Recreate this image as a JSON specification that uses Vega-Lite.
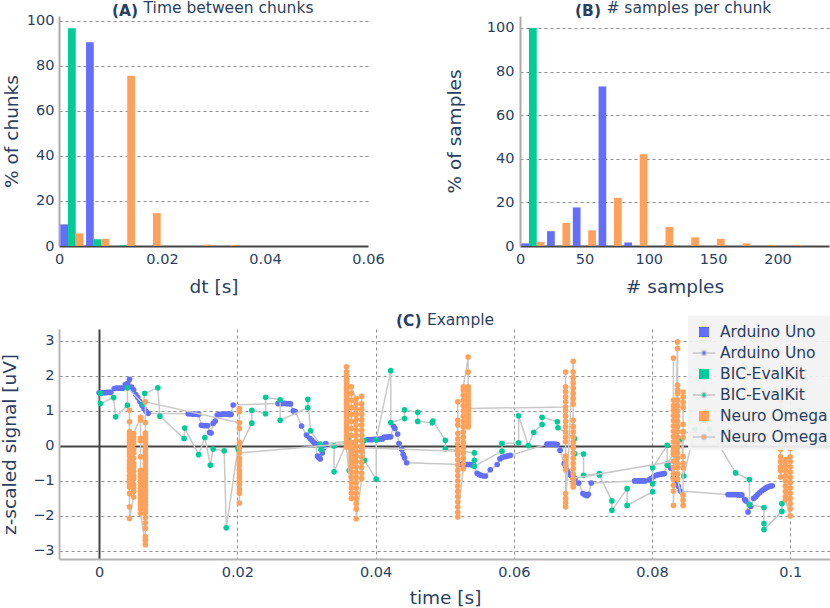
{
"$schema":"https://vega.github.io/schema/vega-lite/v6.json",
"background":"white",
"padding":{"left":0,"top":0,"right":0,"bottom":0},
"config":{
 "font":"DejaVu Sans",
 "view":{"stroke":null},
 "axis":{"labelFont":"DejaVu Sans","labelFontSize":14.5,"labelColor":"#2a3f5f","labelFlush":false,"titleFont":"DejaVu Sans","titleFontSize":18.5,"titleFontWeight":"normal","titleColor":"#2a3f5f","ticks":false,"labelPadding":6,"gridColor":"#8f8f8f","gridDash":[3,3],"domainColor":"#b0b0b0","domainWidth":2},
 "title":{"font":"DejaVu Sans","fontSize":15.5,"fontWeight":"bold","color":"#2a3f5f","anchor":"start","frame":"group","offset":-19}
},
"datasets":{
 "histA":[
  {"bin":0,"device":"Arduino Uno","pct":9.6},{"bin":0,"device":"BIC-EvalKit","pct":96.7},{"bin":0,"device":"Neuro Omega","pct":5.6},
  {"bin":0.005,"device":"Arduino Uno","pct":90.4},{"bin":0.005,"device":"BIC-EvalKit","pct":3.0},{"bin":0.005,"device":"Neuro Omega","pct":3.2},
  {"bin":0.01,"device":"BIC-EvalKit","pct":0.3},{"bin":0.01,"device":"Neuro Omega","pct":75.6},
  {"bin":0.015,"device":"Neuro Omega","pct":14.6},
  {"bin":0.025,"device":"Neuro Omega","pct":0.6},
  {"bin":0.03,"device":"Neuro Omega","pct":0.4}
 ],
 "histB":[
  {"bin":0,"device":"Arduino Uno","pct":1.2},{"bin":0,"device":"BIC-EvalKit","pct":100},{"bin":0,"device":"Neuro Omega","pct":1.8},
  {"bin":20,"device":"Arduino Uno","pct":6.8},{"bin":20,"device":"Neuro Omega","pct":10.6},
  {"bin":40,"device":"Arduino Uno","pct":17.7},{"bin":40,"device":"Neuro Omega","pct":7.2},
  {"bin":60,"device":"Arduino Uno","pct":73.2},{"bin":60,"device":"Neuro Omega","pct":22.1},
  {"bin":80,"device":"Arduino Uno","pct":1.6},{"bin":80,"device":"Neuro Omega","pct":42.1},
  {"bin":100,"device":"Neuro Omega","pct":8.7},
  {"bin":120,"device":"Neuro Omega","pct":4.0},
  {"bin":140,"device":"Neuro Omega","pct":3.3},
  {"bin":160,"device":"Neuro Omega","pct":1.2},
  {"bin":180,"device":"Neuro Omega","pct":0.35},
  {"bin":200,"device":"Neuro Omega","pct":0.25},
  {"bin":220,"device":"Neuro Omega","pct":0.1}
 ],
 "ardu":[
  {"t":0,"v":1.52},{"t":0.0003,"v":1.52},{"t":0.0006,"v":1.52},{"t":0.0009,"v":1.52},{"t":0.0012,"v":1.53},{"t":0.0015,"v":1.53},{"t":0.0017,"v":1.53},
  {"t":0.0022,"v":1.64},{"t":0.0025,"v":1.65},{"t":0.0028,"v":1.65},{"t":0.0031,"v":1.65},{"t":0.0034,"v":1.65},
  {"t":0.0038,"v":1.75},{"t":0.0041,"v":1.78},{"t":0.0044,"v":1.9},{"t":0.0047,"v":1.68},{"t":0.005,"v":1.6},{"t":0.0053,"v":1.47},{"t":0.0056,"v":1.38},{"t":0.0059,"v":1.27},{"t":0.0062,"v":1.16},{"t":0.0065,"v":1.06},{"t":0.0068,"v":0.98},{"t":0.0071,"v":0.93},
  {"t":0.0129,"v":0.92},{"t":0.0132,"v":0.92},{"t":0.0135,"v":0.91},{"t":0.0138,"v":0.91},{"t":0.0141,"v":0.91},{"t":0.0144,"v":0.9},
  {"t":0.0148,"v":0.59},{"t":0.0151,"v":0.58},{"t":0.0154,"v":0.58},{"t":0.0157,"v":0.58},
  {"t":0.016,"v":0.38},{"t":0.0162,"v":0.37},
  {"t":0.0165,"v":0.64},{"t":0.0168,"v":0.71},{"t":0.0171,"v":0.88},{"t":0.0174,"v":0.9},{"t":0.0177,"v":0.9},{"t":0.018,"v":0.91},{"t":0.0183,"v":0.91},{"t":0.0186,"v":0.91},{"t":0.0189,"v":0.9},{"t":0.0191,"v":0.9},
  {"t":0.0194,"v":1.17},
  {"t":0.0259,"v":1.21},{"t":0.0262,"v":1.21},{"t":0.0265,"v":1.21},{"t":0.0268,"v":1.22},{"t":0.0271,"v":1.21},{"t":0.0274,"v":1.21},{"t":0.0277,"v":1.2},
  {"t":0.0281,"v":1.0},{"t":0.0284,"v":0.98},
  {"t":0.0293,"v":0.57},
  {"t":0.03,"v":0.31},
  {"t":0.0305,"v":0.22},{"t":0.0308,"v":0.16},{"t":0.0311,"v":0.09},{"t":0.0313,"v":0.06},
  {"t":0.0316,"v":-0.29},{"t":0.0318,"v":-0.34},{"t":0.032,"v":-0.37},
  {"t":0.0323,"v":-0.2},{"t":0.0325,"v":-0.06},{"t":0.0328,"v":0.07},
  {"t":0.0389,"v":0.18},{"t":0.0392,"v":0.18},{"t":0.0395,"v":0.18},{"t":0.0398,"v":0.19},{"t":0.0401,"v":0.19},{"t":0.0404,"v":0.19},{"t":0.0407,"v":0.2},{"t":0.041,"v":0.2},
  {"t":0.0413,"v":0.25},{"t":0.0416,"v":0.25},{"t":0.0419,"v":0.26},{"t":0.0422,"v":0.26},
  {"t":0.0426,"v":0.56},{"t":0.0428,"v":0.5},{"t":0.0432,"v":0.34},{"t":0.0434,"v":0.07},{"t":0.0438,"v":-0.1},{"t":0.044,"v":-0.24},{"t":0.0442,"v":-0.34},{"t":0.0445,"v":-0.48},
  {"t":0.0524,"v":-0.53},{"t":0.0527,"v":-0.53},{"t":0.053,"v":-0.53},{"t":0.0533,"v":-0.53},{"t":0.0536,"v":-0.53},{"t":0.0539,"v":-0.54},{"t":0.0542,"v":-0.54},
  {"t":0.0547,"v":-0.78},{"t":0.055,"v":-0.82},{"t":0.0553,"v":-0.84},{"t":0.0556,"v":-0.86},{"t":0.0559,"v":-0.86},
  {"t":0.0566,"v":-0.68},
  {"t":0.0576,"v":-0.53},
  {"t":0.058,"v":-0.37},{"t":0.0583,"v":-0.33},{"t":0.0586,"v":-0.31},{"t":0.0589,"v":-0.3},{"t":0.0592,"v":-0.28},{"t":0.0595,"v":-0.27},
  {"t":0.0648,"v":0.05},{"t":0.0651,"v":0.05},{"t":0.0654,"v":0.05},{"t":0.0657,"v":0.05},{"t":0.066,"v":0.05},{"t":0.0663,"v":0.04},
  {"t":0.0667,"v":-0.12},
  {"t":0.0673,"v":-0.5},{"t":0.0675,"v":-0.6},{"t":0.0677,"v":-0.7},
  {"t":0.068,"v":-0.8},{"t":0.0683,"v":-0.85},{"t":0.0686,"v":-0.88},{"t":0.0689,"v":-0.93},
  {"t":0.0694,"v":-1.06},
  {"t":0.07,"v":-1.36},{"t":0.0703,"v":-1.4},{"t":0.0706,"v":-1.42},{"t":0.0708,"v":-1.38},
  {"t":0.0712,"v":-1.06},
  {"t":0.0775,"v":-1.0},{"t":0.0778,"v":-1.0},{"t":0.0781,"v":-1.0},{"t":0.0784,"v":-1.0},{"t":0.0787,"v":-1.0},{"t":0.079,"v":-1.0},
  {"t":0.0796,"v":-0.97},{"t":0.0799,"v":-0.93},{"t":0.0802,"v":-0.88},
  {"t":0.0806,"v":-0.84},{"t":0.0809,"v":-0.82},{"t":0.0812,"v":-0.81},{"t":0.0815,"v":-0.8},{"t":0.0818,"v":-0.79},
  {"t":0.0823,"v":-0.5},{"t":0.0827,"v":-0.63},{"t":0.0831,"v":-0.9},{"t":0.0835,"v":-1.05},{"t":0.0838,"v":-1.15},{"t":0.0841,"v":-1.29},
  {"t":0.091,"v":-1.39},{"t":0.0913,"v":-1.39},{"t":0.0916,"v":-1.39},{"t":0.0919,"v":-1.39},{"t":0.0922,"v":-1.39},{"t":0.0925,"v":-1.4},{"t":0.0928,"v":-1.4},{"t":0.093,"v":-1.4},
  {"t":0.0934,"v":-1.53},{"t":0.0936,"v":-1.57},
  {"t":0.0939,"v":-1.89},{"t":0.0943,"v":-1.72},
  {"t":0.0947,"v":-1.5},{"t":0.095,"v":-1.45},{"t":0.0953,"v":-1.39},{"t":0.0956,"v":-1.33},{"t":0.0959,"v":-1.28},{"t":0.0962,"v":-1.24},{"t":0.0965,"v":-1.2},{"t":0.0968,"v":-1.17},{"t":0.0971,"v":-1.15},{"t":0.0974,"v":-1.14}
 ],
 "bic":[
  {"t":0.0002,"v":1.5},{"t":0.0002,"v":1.21},{"t":0.0021,"v":1.38},{"t":0.0024,"v":0.83},{"t":0.0041,"v":1.16},{"t":0.0041,"v":1.66},{"t":0.0064,"v":1.2},{"t":0.0066,"v":1.5},
  {"t":0.0085,"v":1.66},{"t":0.0088,"v":0.85},{"t":0.0123,"v":0.21},{"t":0.0124,"v":0.51},{"t":0.0144,"v":-0.25},{"t":0.0153,"v":0.24},{"t":0.0161,"v":-0.55},{"t":0.0165,"v":-0.09},
  {"t":0.0181,"v":-0.14},{"t":0.0184,"v":-2.34},{"t":0.0201,"v":-0.06},{"t":0.0202,"v":-0.12},{"t":0.0221,"v":0.65},{"t":0.0221,"v":1.02},{"t":0.0241,"v":0.92},{"t":0.0241,"v":1.39},
  {"t":0.0262,"v":1.32},{"t":0.0262,"v":0.73},{"t":0.0302,"v":1.09},{"t":0.0302,"v":1.33},{"t":0.0306,"v":0.43},{"t":0.032,"v":0.05},{"t":0.0321,"v":-0.1},{"t":0.034,"v":0.0},
  {"t":0.034,"v":-0.74},{"t":0.0361,"v":0.23},{"t":0.0362,"v":-0.7},{"t":0.0384,"v":0.16},{"t":0.0384,"v":-0.41},{"t":0.0401,"v":-0.95},{"t":0.0401,"v":0.17},{"t":0.0422,"v":2.15},
  {"t":0.0422,"v":0.67},{"t":0.0442,"v":0.78},{"t":0.0442,"v":1.03},{"t":0.0461,"v":0.96},{"t":0.0461,"v":0.7},{"t":0.0482,"v":0.66},{"t":0.0483,"v":0.71},{"t":0.0501,"v":0.16},
  {"t":0.0501,"v":-0.08},{"t":0.0543,"v":-0.2},{"t":0.0543,"v":-0.41},{"t":0.0543,"v":-0.58},{"t":0.0583,"v":-0.15},{"t":0.0583,"v":0.07},{"t":0.0607,"v":0.09},{"t":0.0607,"v":0.86},
  {"t":0.0621,"v":0.01},{"t":0.0629,"v":0.39},{"t":0.0641,"v":0.61},{"t":0.0641,"v":0.82},{"t":0.0663,"v":0.69},{"t":0.0664,"v":0.52},{"t":0.0688,"v":0.21},{"t":0.0688,"v":-0.22},
  {"t":0.0701,"v":-0.23},{"t":0.0701,"v":-0.84},{"t":0.0724,"v":-0.79},{"t":0.0724,"v":-0.83},{"t":0.0742,"v":-1.57},{"t":0.0742,"v":-1.84},{"t":0.0764,"v":-1.22},{"t":0.0764,"v":-1.7},
  {"t":0.0801,"v":-1.31},{"t":0.0801,"v":-1.08},{"t":0.0801,"v":-0.62},{"t":0.0822,"v":0.02},{"t":0.0822,"v":-0.55},{"t":0.0843,"v":0.2},{"t":0.0846,"v":-0.86},{"t":0.0862,"v":0.47},
  {"t":0.0876,"v":0.74},{"t":0.0883,"v":0.49},{"t":0.0921,"v":-0.77},{"t":0.0941,"v":-0.96},{"t":0.0941,"v":-1.67},{"t":0.0962,"v":-1.76},{"t":0.0962,"v":-2.22},{"t":0.0962,"v":-2.39},
  {"t":0.0988,"v":-1.87},{"t":0.0988,"v":-1.65}
 ],
 "neuro":[
  {"t":0.0044,"v":1.02},{"t":0.0044,"v":0.69},{"t":0.0044,"v":0.4},{"t":0.0044,"v":0.3},{"t":0.0044,"v":0.2},{"t":0.0044,"v":0.1},{"t":0.0044,"v":0.0},{"t":0.0044,"v":-0.1},{"t":0.0044,"v":-0.2},{"t":0.0044,"v":-0.3},{"t":0.0044,"v":-0.42},{"t":0.0044,"v":-0.52},{"t":0.0044,"v":-0.62},{"t":0.0044,"v":-0.72},{"t":0.0044,"v":-0.85},{"t":0.0044,"v":-0.95},{"t":0.0044,"v":-1.05},{"t":0.0044,"v":-1.17},{"t":0.0044,"v":-1.36},{"t":0.0044,"v":-1.74},{"t":0.0044,"v":-2.07},
  {"t":0.005,"v":-1.46},{"t":0.005,"v":-1.3},{"t":0.005,"v":-1.2},{"t":0.005,"v":-1.1},{"t":0.005,"v":-0.95},{"t":0.005,"v":-0.85},{"t":0.005,"v":-0.72},{"t":0.005,"v":-0.6},{"t":0.005,"v":-0.5},{"t":0.005,"v":-0.35},{"t":0.005,"v":-0.2},{"t":0.005,"v":-0.1},{"t":0.005,"v":0.05},{"t":0.005,"v":0.15},{"t":0.005,"v":0.25},{"t":0.005,"v":0.35},
  {"t":0.006,"v":0.82},{"t":0.006,"v":0.74},{"t":0.006,"v":0.22},{"t":0.006,"v":0.15},{"t":0.006,"v":-0.31},{"t":0.006,"v":-0.7},{"t":0.006,"v":-0.8},{"t":0.006,"v":-0.9},{"t":0.006,"v":-1.0},{"t":0.006,"v":-1.1},{"t":0.006,"v":-1.2},{"t":0.006,"v":-1.3},{"t":0.006,"v":-1.4},{"t":0.006,"v":-1.5},{"t":0.006,"v":-1.6},{"t":0.006,"v":-1.7},{"t":0.006,"v":-1.8},{"t":0.006,"v":-1.93},
  {"t":0.0067,"v":-2.82},{"t":0.0067,"v":-2.7},{"t":0.0067,"v":-2.6},{"t":0.0067,"v":-2.35},{"t":0.0067,"v":-2.2},{"t":0.0067,"v":-2.05},{"t":0.0067,"v":-1.9},{"t":0.0067,"v":-1.8},{"t":0.0067,"v":-1.7},{"t":0.0067,"v":-1.6},{"t":0.0067,"v":-1.5},{"t":0.0067,"v":-1.4},{"t":0.0067,"v":-1.3},{"t":0.0067,"v":-1.2},{"t":0.0067,"v":-1.1},{"t":0.0067,"v":-1.0},{"t":0.0067,"v":-0.9},{"t":0.0067,"v":-0.8},{"t":0.0067,"v":-0.7},{"t":0.0067,"v":-0.6},{"t":0.0067,"v":-0.5},{"t":0.0067,"v":-0.4},{"t":0.0067,"v":-0.3},{"t":0.0067,"v":-0.2},{"t":0.0067,"v":-0.1},{"t":0.0067,"v":0.0},{"t":0.0067,"v":0.1},{"t":0.0067,"v":0.2},{"t":0.0067,"v":0.3},{"t":0.0067,"v":0.37},{"t":0.0067,"v":0.67},{"t":0.0067,"v":1.26},
  {"t":0.0203,"v":0.66},{"t":0.0203,"v":1.07},{"t":0.0203,"v":0.98},{"t":0.0203,"v":0.5},{"t":0.0203,"v":0.1},{"t":0.0203,"v":-0.05},{"t":0.0203,"v":-0.35},{"t":0.0203,"v":-0.45},{"t":0.0203,"v":-0.55},{"t":0.0203,"v":-0.7},{"t":0.0203,"v":-0.8},{"t":0.0203,"v":-0.9},{"t":0.0203,"v":-1.0},{"t":0.0203,"v":-1.1},{"t":0.0203,"v":-1.25},{"t":0.0203,"v":-1.35},{"t":0.0203,"v":-1.63},{"t":0.0203,"v":-0.2},
  {"t":0.0358,"v":0.07},{"t":0.0358,"v":2.26},{"t":0.0358,"v":2.12},{"t":0.0358,"v":2.0},{"t":0.0358,"v":1.9},{"t":0.0358,"v":1.8},{"t":0.0358,"v":1.7},{"t":0.0358,"v":1.6},{"t":0.0358,"v":1.5},{"t":0.0358,"v":1.4},{"t":0.0358,"v":1.3},{"t":0.0358,"v":1.2},{"t":0.0358,"v":1.1},{"t":0.0358,"v":1.0},{"t":0.0358,"v":0.9},{"t":0.0358,"v":0.8},{"t":0.0358,"v":0.7},{"t":0.0358,"v":0.6},{"t":0.0358,"v":0.5},{"t":0.0358,"v":0.4},{"t":0.0358,"v":0.3},{"t":0.0358,"v":0.2},{"t":0.0358,"v":0.1},{"t":0.0358,"v":-0.03},
  {"t":0.0365,"v":-1.5},{"t":0.0365,"v":-1.35},{"t":0.0365,"v":-1.2},{"t":0.0365,"v":-1.05},{"t":0.0365,"v":-0.9},{"t":0.0365,"v":-0.75},{"t":0.0365,"v":-0.6},{"t":0.0365,"v":-0.5},{"t":0.0365,"v":-0.4},{"t":0.0365,"v":-0.3},{"t":0.0365,"v":-0.2},{"t":0.0365,"v":-0.1},{"t":0.0365,"v":0.0},{"t":0.0365,"v":0.1},{"t":0.0365,"v":0.3},{"t":0.0365,"v":0.5},{"t":0.0365,"v":0.7},{"t":0.0365,"v":0.9},{"t":0.0365,"v":1.1},{"t":0.0365,"v":1.3},{"t":0.0365,"v":1.5},{"t":0.0365,"v":1.69},
  {"t":0.0372,"v":1.35},{"t":0.0372,"v":1.2},{"t":0.0372,"v":1.05},{"t":0.0372,"v":0.9},{"t":0.0372,"v":0.75},{"t":0.0372,"v":0.6},{"t":0.0372,"v":0.45},{"t":0.0372,"v":0.3},{"t":0.0372,"v":0.15},{"t":0.0372,"v":0.0},{"t":0.0372,"v":-0.15},{"t":0.0372,"v":-0.3},{"t":0.0372,"v":-0.45},{"t":0.0372,"v":-0.6},{"t":0.0372,"v":-0.75},{"t":0.0372,"v":-0.9},{"t":0.0372,"v":-1.05},{"t":0.0372,"v":-1.2},{"t":0.0372,"v":-1.35},{"t":0.0372,"v":-1.5},{"t":0.0372,"v":-1.65},{"t":0.0372,"v":-1.8},{"t":0.0372,"v":-2.08},
  {"t":0.038,"v":-0.93},{"t":0.038,"v":-0.78},{"t":0.038,"v":-0.62},{"t":0.038,"v":-0.47},{"t":0.038,"v":-0.32},{"t":0.038,"v":-0.17},{"t":0.038,"v":0.0},{"t":0.038,"v":0.15},{"t":0.038,"v":0.3},{"t":0.038,"v":0.45},{"t":0.038,"v":0.6},{"t":0.038,"v":0.75},{"t":0.038,"v":0.9},{"t":0.038,"v":1.05},{"t":0.038,"v":1.2},{"t":0.038,"v":1.42},{"t":0.038,"v":-0.05},
  {"t":0.0519,"v":-0.15},{"t":0.0519,"v":1.26},{"t":0.0519,"v":0.73},{"t":0.0519,"v":0.6},{"t":0.0519,"v":0.36},{"t":0.0519,"v":0.2},{"t":0.0519,"v":0.05},{"t":0.0519,"v":-0.1},{"t":0.0519,"v":-0.25},{"t":0.0519,"v":-0.4},{"t":0.0519,"v":-0.55},{"t":0.0519,"v":-0.7},{"t":0.0519,"v":-0.85},{"t":0.0519,"v":-1.0},{"t":0.0519,"v":-1.15},{"t":0.0519,"v":-1.3},{"t":0.0519,"v":-1.45},{"t":0.0519,"v":-1.6},{"t":0.0519,"v":-1.75},{"t":0.0519,"v":-1.9},{"t":0.0519,"v":-2.03},
  {"t":0.0527,"v":-0.65},{"t":0.0527,"v":-0.5},{"t":0.0527,"v":-0.35},{"t":0.0527,"v":-0.2},{"t":0.0527,"v":-0.05},{"t":0.0527,"v":0.1},{"t":0.0527,"v":0.25},{"t":0.0527,"v":0.4},{"t":0.0527,"v":0.55},{"t":0.0527,"v":0.7},{"t":0.0527,"v":0.85},{"t":0.0527,"v":1.0},{"t":0.0527,"v":1.15},{"t":0.0527,"v":1.3},{"t":0.0527,"v":1.45},{"t":0.0527,"v":1.6},{"t":0.0527,"v":1.69},
  {"t":0.0534,"v":2.54},{"t":0.0534,"v":2.11},{"t":0.0534,"v":1.69},{"t":0.0534,"v":1.6},{"t":0.0534,"v":1.5},{"t":0.0534,"v":1.4},{"t":0.0534,"v":1.3},{"t":0.0534,"v":1.2},{"t":0.0534,"v":1.1},{"t":0.0534,"v":1.0},{"t":0.0534,"v":0.9},{"t":0.0534,"v":0.8},{"t":0.0534,"v":0.7},{"t":0.0534,"v":0.6},{"t":0.0534,"v":0.54},{"t":0.0534,"v":1.07},
  {"t":0.0675,"v":1.11},{"t":0.0675,"v":2.11},{"t":0.0675,"v":1.69},{"t":0.0675,"v":1.55},{"t":0.0675,"v":1.4},{"t":0.0675,"v":1.26},{"t":0.0675,"v":1.0},{"t":0.0675,"v":0.85},{"t":0.0675,"v":0.7},{"t":0.0675,"v":0.55},{"t":0.0675,"v":0.4},{"t":0.0675,"v":0.25},{"t":0.0675,"v":0.12},{"t":0.0675,"v":-0.29},{"t":0.0675,"v":-0.42},{"t":0.0675,"v":-0.55},{"t":0.0675,"v":-0.68},{"t":0.0675,"v":-1.36},{"t":0.0675,"v":-1.5},{"t":0.0675,"v":-1.62},{"t":0.0675,"v":-1.74},
  {"t":0.0686,"v":2.42},{"t":0.0686,"v":2.11},{"t":0.0686,"v":1.95},{"t":0.0686,"v":1.8},{"t":0.0686,"v":1.65},{"t":0.0686,"v":1.5},{"t":0.0686,"v":1.35},{"t":0.0686,"v":1.2},{"t":0.0686,"v":0.73},{"t":0.0686,"v":0.55},{"t":0.0686,"v":0.4},{"t":0.0686,"v":0.25},{"t":0.0686,"v":0.1},{"t":0.0686,"v":-0.05},{"t":0.0686,"v":-0.2},{"t":0.0686,"v":-0.35},{"t":0.0686,"v":-0.5},{"t":0.0686,"v":-0.65},{"t":0.0686,"v":-0.8},{"t":0.0686,"v":-0.95},{"t":0.0686,"v":-1.08},{"t":0.0686,"v":-1.17},{"t":0.0686,"v":-0.93},
  {"t":0.0831,"v":-0.44},{"t":0.0831,"v":2.51},{"t":0.0831,"v":1.31},{"t":0.0831,"v":1.15},{"t":0.0831,"v":1.02},{"t":0.0831,"v":0.87},{"t":0.0831,"v":0.72},{"t":0.0831,"v":0.57},{"t":0.0831,"v":0.42},{"t":0.0831,"v":0.27},{"t":0.0831,"v":0.12},{"t":0.0831,"v":-0.03},{"t":0.0831,"v":-0.15},{"t":0.0831,"v":-0.24},{"t":0.0831,"v":-0.62},{"t":0.0831,"v":-0.8},{"t":0.0831,"v":-0.95},{"t":0.0831,"v":-1.12},{"t":0.0831,"v":-1.29},{"t":0.0831,"v":-1.7},
  {"t":0.0837,"v":2.97},{"t":0.0837,"v":2.78},{"t":0.0837,"v":1.73},{"t":0.0837,"v":1.6},{"t":0.0837,"v":1.5},{"t":0.0837,"v":1.31},{"t":0.0837,"v":1.15},{"t":0.0837,"v":1.0},{"t":0.0837,"v":0.85},{"t":0.0837,"v":0.7},{"t":0.0837,"v":0.55},{"t":0.0837,"v":0.4},{"t":0.0837,"v":0.25},{"t":0.0837,"v":0.1},{"t":0.0837,"v":-0.05},{"t":0.0837,"v":-0.2},{"t":0.0837,"v":-0.35},{"t":0.0837,"v":-0.5},{"t":0.0837,"v":-0.62},{"t":0.0837,"v":-0.8},{"t":0.0837,"v":-0.95},
  {"t":0.0845,"v":-1.7},{"t":0.0845,"v":-1.55},{"t":0.0845,"v":-1.4},{"t":0.0845,"v":-0.62},{"t":0.0845,"v":-0.5},{"t":0.0845,"v":-0.3},{"t":0.0845,"v":0.24},{"t":0.0845,"v":0.4},{"t":0.0845,"v":0.62},{"t":0.0845,"v":1.1},{"t":0.0845,"v":1.25},{"t":0.0845,"v":1.4},{"t":0.0845,"v":1.54},{"t":0.0845,"v":0.4},
  {"t":0.0986,"v":0.3},{"t":0.0986,"v":2.64},{"t":0.0986,"v":1.6},{"t":0.0986,"v":1.3},{"t":0.0986,"v":0.9},{"t":0.0986,"v":0.11},{"t":0.0986,"v":-0.1},{"t":0.0986,"v":-0.31},{"t":0.0986,"v":-0.45},{"t":0.0986,"v":-0.6},{"t":0.0986,"v":-0.7},{"t":0.0986,"v":-0.89},
  {"t":0.0993,"v":-0.4},{"t":0.0993,"v":-0.55},{"t":0.0993,"v":-0.7},{"t":0.0993,"v":-0.85},{"t":0.0993,"v":-1.0},{"t":0.0993,"v":-1.15},{"t":0.0993,"v":-1.3},{"t":0.0993,"v":-1.45},{"t":0.0993,"v":-1.54},
  {"t":0.1,"v":-2.0},{"t":0.1,"v":-1.8},{"t":0.1,"v":-1.65},{"t":0.1,"v":-1.5},{"t":0.1,"v":-1.35},{"t":0.1,"v":-1.2},{"t":0.1,"v":-1.05},{"t":0.1,"v":-0.9},{"t":0.1,"v":-0.75},{"t":0.1,"v":-0.6},{"t":0.1,"v":-0.45},{"t":0.1,"v":-0.31},{"t":0.1,"v":-0.08}
 ]
},
"spacing":16,
"vconcat":[
 {"hconcat":[
  {"width":309,"height":230,
   "title":{"text":"(A)","dx":53},
   "layer":[
    {"data":{"name":"histA"},"mark":{"type":"bar"},
     "encoding":{
      "x":{"field":"bin","type":"ordinal","scale":{"domain":[0,0.005,0.01,0.015,0.02,0.025,0.03,0.035,0.04,0.045,0.05,0.055],"paddingInner":0,"paddingOuter":0},"axis":null},
      "xOffset":{"field":"device","scale":{"domain":["Arduino Uno","BIC-EvalKit","Neuro Omega"],"paddingInner":0,"paddingOuter":0.17}},
      "y":{"field":"pct","type":"quantitative","scale":{"domain":[0,102.1],"nice":false},"axis":{"title":"% of chunks","values":[0,20,40,60,80,100],"labelPadding":5,"titlePadding":5,"domainColor":"#aaaaaa","gridColor":{"condition":{"test":"datum.value === 0","value":"#444444"},"value":"#8f8f8f"},"gridDash":{"condition":{"test":"datum.value === 0","value":[]},"value":[3,3]},"gridWidth":{"condition":{"test":"datum.value === 0","value":2},"value":1}}},
      "color":{"field":"device","type":"nominal","scale":{"domain":["Arduino Uno","BIC-EvalKit","Neuro Omega"],"range":["#636efa","#00cc96","#ffa15a"]},"legend":null}
     }},
    {"data":{"name":"histA"},"mark":{"type":"point","opacity":0},
     "encoding":{
      "x":{"field":"bin","type":"quantitative","scale":{"domain":[0,0.06],"nice":false,"zero":false},"axis":{"title":"dt [s]","values":[0,0.02,0.04,0.06],"format":"~g","domain":false,"titlePadding":12,"gridOpacity":{"condition":{"test":"datum.value === 0 || datum.value >= 0.06","value":0},"value":1}}},
      "y":{"field":"pct","type":"quantitative"}
     }},
    {"data":{"name":"histA"},"mark":{"type":"point","opacity":0},
     "encoding":{
      "x":{"field":"bin","type":"quantitative","axis":{"orient":"top","title":"Time between chunks","labels":false,"ticks":false,"domain":false,"grid":false,"titleFontSize":15.5,"titleFontWeight":"normal","titleX":84.1,"titleY":-3.3,"titleAlign":"left","titleAnchor":"start","titleBaseline":"alphabetic","titleAngle":0,"titlePadding":0}},
      "y":{"field":"pct","type":"quantitative"}
     }}
   ],
   "resolve":{"scale":{"x":"independent"}}
  },
  {"width":309,"height":230,
   "title":{"text":"(B)","dx":55},
   "layer":[
    {"data":{"name":"histB"},"mark":{"type":"bar"},
     "encoding":{
      "x":{"field":"bin","type":"ordinal","scale":{"domain":[0,20,40,60,80,100,120,140,160,180,200,220],"paddingInner":0,"paddingOuter":0},"axis":null},
      "xOffset":{"field":"device","scale":{"domain":["Arduino Uno","BIC-EvalKit","Neuro Omega"],"paddingInner":0,"paddingOuter":0.17}},
      "y":{"field":"pct","type":"quantitative","scale":{"domain":[0,105.5],"nice":false},"axis":{"title":"% of samples","values":[0,20,40,60,80,100],"labelPadding":6,"titlePadding":22,"domainColor":"#aaaaaa","gridColor":{"condition":{"test":"datum.value === 0","value":"#444444"},"value":"#8f8f8f"},"gridDash":{"condition":{"test":"datum.value === 0","value":[]},"value":[3,3]},"gridWidth":{"condition":{"test":"datum.value === 0","value":2},"value":1}}},
      "color":{"field":"device","type":"nominal","scale":{"domain":["Arduino Uno","BIC-EvalKit","Neuro Omega"],"range":["#636efa","#00cc96","#ffa15a"]},"legend":null}
     }},
    {"data":{"name":"histB"},"mark":{"type":"point","opacity":0},
     "encoding":{
      "x":{"field":"bin","type":"quantitative","scale":{"domain":[0,240],"nice":false,"zero":false},"axis":{"title":"# samples","values":[0,50,100,150,200],"domain":false,"titlePadding":12,"gridOpacity":{"condition":{"test":"datum.value === 0","value":0},"value":1}}},
      "y":{"field":"pct","type":"quantitative"}
     }},
    {"data":{"name":"histB"},"mark":{"type":"point","opacity":0},
     "encoding":{
      "x":{"field":"bin","type":"quantitative","axis":{"orient":"top","title":"# samples per chunk","labels":false,"ticks":false,"domain":false,"grid":false,"titleFontSize":15.5,"titleFontWeight":"normal","titleX":85.9,"titleY":-3.3,"titleAlign":"left","titleAnchor":"start","titleBaseline":"alphabetic","titleAngle":0,"titlePadding":0}},
      "y":{"field":"pct","type":"quantitative"}
     }}
   ],
   "resolve":{"scale":{"x":"independent"}}
  }
 ],"spacing":60},
 {"width":772,"height":230,
  "title":{"text":"(C)","dx":337,"offset":-17.3},
  "layer":[
   {"encoding":{
     "x":{"field":"t","type":"quantitative","scale":{"domain":[-0.0058,0.1059],"nice":false,"zero":false},"axis":{"title":"time [s]","values":[0,0.02,0.04,0.06,0.08,0.1],"format":"~g","titlePadding":10,"domainColor":"#b4b4b4","gridColor":{"condition":{"test":"datum.value === 0","value":"#444444"},"value":"#8f8f8f"},"gridDash":{"condition":{"test":"datum.value === 0","value":[]},"value":[3,3]},"gridWidth":{"condition":{"test":"datum.value === 0","value":2},"value":1}}},
     "y":{"field":"v","type":"quantitative","scale":{"domain":[-3.23,3.34],"nice":false,"zero":false},"axis":{"title":"z-scaled signal [uV]","values":[-3,-2,-1,0,1,2,3],"format":"~g","labelPadding":5,"titlePadding":13,"domainColor":"#b4b4b4","gridColor":{"condition":{"test":"datum.value === 0","value":"#444444"},"value":"#8f8f8f"},"gridDash":{"condition":{"test":"datum.value === 0","value":[]},"value":[3,3]},"gridWidth":{"condition":{"test":"datum.value === 0","value":2},"value":1}}}
    },
    "layer":[
     {"data":{"name":"ardu"},"mark":{"type":"line","color":"#c9c9c9","strokeWidth":1.5},"encoding":{"order":{"value":null}}},
     {"data":{"name":"ardu"},"mark":{"type":"point","filled":true,"size":32,"opacity":1,"strokeWidth":0},
      "encoding":{"color":{"datum":"Arduino Uno","scale":{"domain":["Arduino Uno|s","Arduino Uno","BIC-EvalKit|s","BIC-EvalKit","Neuro Omega|s","Neuro Omega"],"range":["#636efa","#636efa","#00cc96","#00cc96","#ffa15a","#ffa15a"]},
       "legend":{"orient":"none","legendX":629,"legendY":-13,"title":null,"labelExpr":"replace(datum.label, '|s', '')","labelFont":"DejaVu Sans","labelFontSize":15.5,"labelColor":"#2a3f5f","fillColor":"rgba(242,242,242,0.92)","padding":4,"rowPadding":0,"labelOffset":4,"symbolSize":500,"symbolStrokeWidth":1.5,
        "symbolType":{"expr":"indexof(datum.value, '|s') >= 0 ? 'M-0.45,-0.45H0.45V0.45H-0.45Z' : 'M-1,0H-0.22M0.22,0H1M-0.22,0A0.22,0.22 0 1,0 0.22,0A0.22,0.22 0 1,0 -0.22,0Z'"},
        "symbolStrokeColor":{"expr":"indexof(datum.value, '|s') >= 0 ? 'transparent' : '#c8c8c8'"}
       }}}},
     {"data":{"name":"bic"},"mark":{"type":"line","color":"#c9c9c9","strokeWidth":1.5},"encoding":{"order":{"value":null}}},
     {"data":{"name":"bic"},"mark":{"type":"point","filled":true,"size":32,"opacity":1,"strokeWidth":0},"encoding":{"color":{"datum":"BIC-EvalKit"}}},
     {"data":{"name":"neuro"},"mark":{"type":"line","color":"#c9c9c9","strokeWidth":1.5},"encoding":{"order":{"value":null}}},
     {"data":{"name":"neuro"},"mark":{"type":"point","filled":true,"size":32,"opacity":1,"strokeWidth":0},"encoding":{"color":{"datum":"Neuro Omega"}}}
    ]
   },
   {"data":{"name":"ardu"},"mark":{"type":"point","opacity":0},
    "encoding":{
     "x":{"field":"t","type":"quantitative","axis":{"orient":"top","title":"Example","labels":false,"ticks":false,"domain":false,"grid":false,"titleFontSize":15.5,"titleFontWeight":"normal","titleX":367.4,"titleY":-5,"titleAlign":"left","titleAnchor":"start","titleBaseline":"alphabetic","titleAngle":0,"titlePadding":0}}
    }}
  ],
  "resolve":{"scale":{"x":"independent"}}
 }
],
"resolve":{"scale":{"color":"independent"},"legend":{"color":"independent"}}
}
